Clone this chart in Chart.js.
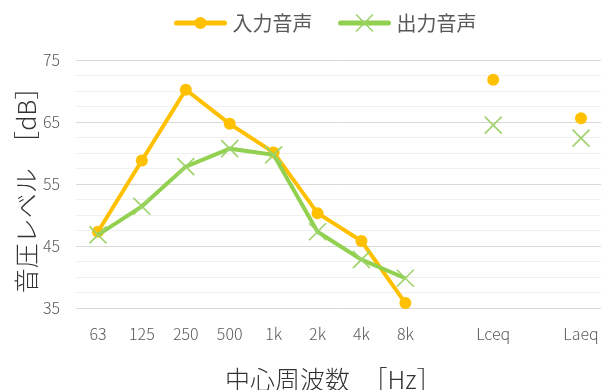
<!DOCTYPE html>
<html lang="ja">
<head>
<meta charset="utf-8">
<title>中心周波数別 音圧レベル</title>
<script src="https://cdn.jsdelivr.net/npm/chart.js@4/dist/chart.umd.min.js"></script>
<style>
  html, body { margin: 0; padding: 0; background: #ffffff; }
  #wrap { width: 601px; height: 390px; overflow: hidden; }
  canvas { display: block; }
</style>
</head>
<body>
<div id="wrap"><canvas id="c" width="651" height="390"></canvas></div>
<script>
// Octave-band centre frequencies, then the two overall levels (blank slots keep them apart)
const categories = ['63', '125', '250', '500', '1k', '2k', '4k', '8k', '', 'Lceq', '', 'Laeq'];
const inputLevels  = [47.3, 58.8, 70.2, 64.7, 60.1, 50.3, 45.8, 35.8, null, 71.8, null, 65.6];
const outputLevels = [46.8, 51.4, 57.8, 60.7, 59.7, 47.3, 42.8, 39.8, null, 64.5, null, 62.4];
const seriesNames = ['入力音声', '出力音声'];
const yTickValues = [35, 45, 55, 65, 75];

const FONT = '"Noto Sans CJK JP", "Noto Sans", sans-serif';
const ORANGE = '#FFC000';
const GREEN = '#92D050';
const GREEN_MARK = '#9ED36A';
const TEXT = '#595959';

// Legend drawn as line sample + marker + label, centred over the canvas
const lineLegend = {
  id: 'lineLegend',
  afterDraw(chart) {
    const ctx = chart.ctx;
    const sample = 52, gapText = 6, gapItem = 26, y = 23;
    ctx.save();
    ctx.font = '20px ' + FONT;
    const items = chart.data.datasets.map(ds => ({ ds, w: ctx.measureText(ds.label).width }));
    const total = items.reduce((s, it) => s + sample + gapText + it.w, 0) + gapItem * (items.length - 1);
    let x = chart.width / 2 - total / 2;
    items.forEach(({ ds, w }) => {
      ctx.strokeStyle = ds.borderColor;
      ctx.lineWidth = 5;
      ctx.lineCap = 'round';
      ctx.beginPath();
      ctx.moveTo(x + 2, y);
      ctx.lineTo(x + sample - 2, y);
      ctx.stroke();
      ctx.lineCap = 'butt';
      ctx.fillStyle = ds.pointBackgroundColor;
      ctx.strokeStyle = ds.pointBorderColor;
      ctx.lineWidth = ds.pointBorderWidth;
      Chart.helpers.drawPoint(ctx, {
        pointStyle: ds.pointStyle,
        radius: ds.pointRadius,
        borderWidth: ds.pointBorderWidth,
        rotation: 0
      }, x + sample / 2, y);
      ctx.fillStyle = TEXT;
      ctx.font = '20px ' + FONT;
      ctx.textBaseline = 'middle';
      ctx.textAlign = 'left';
      ctx.fillText(ds.label, x + sample + gapText, y);
      x += sample + gapText + w + gapItem;
    });
    ctx.restore();
  }
};

new Chart(document.getElementById('c'), {
  type: 'line',
  data: {
    labels: categories,
    datasets: [
      {
        label: seriesNames[0],
        data: inputLevels,
        borderColor: ORANGE,
        backgroundColor: ORANGE,
        borderWidth: 4,
        pointStyle: 'circle',
        pointRadius: 6,
        pointBorderWidth: 0,
        pointBackgroundColor: ORANGE,
        pointBorderColor: ORANGE,
        spanGaps: false,
        tension: 0,
        clip: false,
        order: 1
      },
      {
        label: seriesNames[1],
        data: outputLevels,
        borderColor: GREEN,
        backgroundColor: GREEN,
        borderWidth: 4,
        pointStyle: 'crossRot',
        pointRadius: 12,
        pointBorderWidth: 1.6,
        pointBackgroundColor: GREEN_MARK,
        pointBorderColor: GREEN_MARK,
        spanGaps: false,
        tension: 0,
        clip: false,
        order: 0
      }
    ]
  },
  options: {
    responsive: false,
    animation: false,
    layout: { padding: { top: 60, right: 48, bottom: 0, left: 0 } },
    plugins: {
      legend: { display: false },
      tooltip: { enabled: false }
    },
    scales: {
      x: {
        type: 'category',
        offset: true,
        grid: { display: false },
        border: { display: false },
        ticks: {
          color: TEXT,
          font: { family: FONT, size: 16, weight: 300 },
          padding: 8,
          autoSkip: false,
          maxRotation: 0
        },
        title: {
          display: true,
          text: '中心周波数　［Hz］　',
          color: '#333333',
          font: { family: FONT, size: 25, lineHeight: 0.88, weight: 300 },
          padding: 0
        },
        afterFit: s => { s.height = 82; }
      },
      y: {
        min: yTickValues[0],
        max: yTickValues[yTickValues.length - 1],
        border: { display: false },
        grid: {
          drawTicks: false,
          lineWidth: 1,
          color: c => (yTickValues.includes(c.tick.value) ? '#d9d9d9' : '#f0f0f0')
        },
        ticks: {
          stepSize: 2.5,
          autoSkip: false,
          padding: 16,
          color: TEXT,
          font: { family: FONT, size: 16, weight: 300 },
          callback: v => (yTickValues.includes(v) ? String(v) : '')
        },
        title: {
          display: true,
          text: '音圧レベル　［dB］',
          color: '#333333',
          font: { family: FONT, size: 25, lineHeight: 1.2, weight: 300 },
          padding: { top: 11, bottom: 0 }
        },
        afterFit: s => { s.width = 76; }
      }
    }
  },
  plugins: [lineLegend]
});
</script>
</body>
</html>
